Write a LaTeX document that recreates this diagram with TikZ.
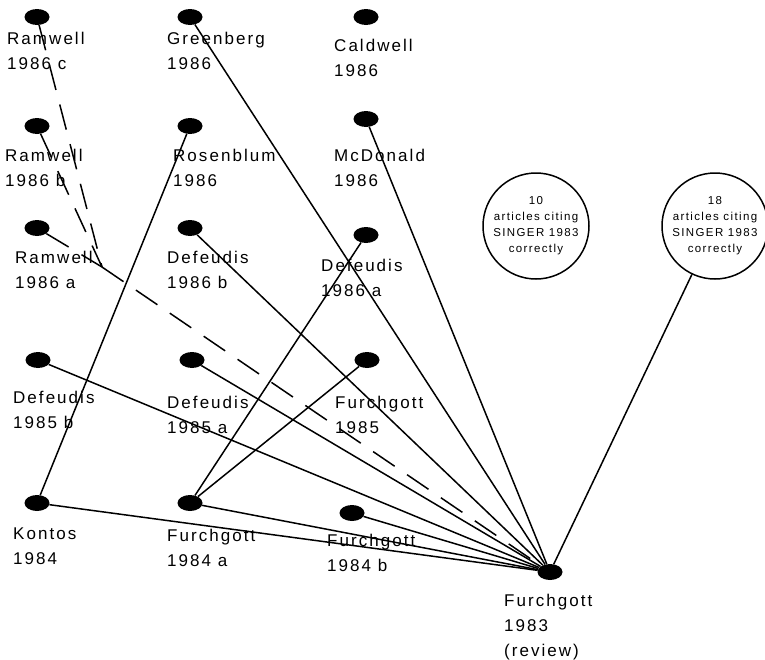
\documentclass[tikz,border=0pt]{standalone}
\usepackage{fontspec}
\setmainfont[LetterSpace=12]{Liberation Sans}
\usetikzlibrary{shapes.geometric}

\begin{document}
\begin{tikzpicture}[x=1pt,y=-1pt,
  paper/.style={ellipse,fill=black,minimum width=25pt,minimum height=16pt,inner sep=0pt},
  lbl/.style={anchor=north west,align=left,inner sep=0pt,font=\fontsize{17}{25}\selectfont},
  tally/.style={draw,circle,line width=1.5pt,minimum size=106pt,inner sep=0pt,align=center,font=\fontsize{11.5}{16}\selectfont},
  citeline/.style={line width=1.5pt},
  miscite/.style={line width=1.5pt,dash pattern=on 26pt off 15pt}]
\useasboundingbox (0,0) rectangle (765,659);
% papers, column by column
\node[paper] (ramc) at (37,17) {};
\node[paper] (ramb) at (37,126) {};
\node[paper] (rama) at (37,228) {};
\node[paper] (def85b) at (38,360) {};
\node[paper] (kontos) at (37,503) {};
\node[paper] (greenberg) at (190,17) {};
\node[paper] (rosenblum) at (190,126) {};
\node[paper] (def86b) at (190,228) {};
\node[paper] (def85a) at (192,360) {};
\node[paper] (fur84a) at (190,503) {};
\node[paper] (caldwell) at (366,17) {};
\node[paper] (mcdonald) at (366,119) {};
\node[paper] (def86a) at (366,235) {};
\node[paper] (fur85) at (367,360) {};
\node[paper] (fur84b) at (352,513) {};
\node[paper] (review) at (550,572) {};
\coordinate (ramj) at (102,267);
% labels
\node[lbl] (ramcl) at (7,32) {Ramwell\\1986 c};
\node[lbl] (rambl) at (5,149) {Ramwell\\1986 b};
\node[lbl] (ramal) at (15,251) {Ramwell\\1986 a};
\node[lbl] (def85bl) at (13,391) {Defeudis\\1985 b};
\node[lbl] (kontosl) at (13,528) {Kontos\\1984};
\node[lbl] (greenbergl) at (167,32) {Greenberg\\1986};
\node[lbl] (rosenbluml) at (173,149) {Rosenblum\\1986};
\node[lbl] (def86bl) at (167,251) {Defeudis\\1986 b};
\node[lbl] (def85al) at (167,396) {Defeudis\\1985 a};
\node[lbl] (fur84al) at (167,529) {Furchgott\\1984 a};
\node[lbl] (caldwelll) at (334,39) {Caldwell\\1986};
\node[lbl] (mcdonaldl) at (334,149) {McDonald\\1986};
\node[lbl] (def86al) at (321,259) {Defeudis\\1986 a};
\node[lbl] (fur85l) at (335,396) {Furchgott\\1985};
\node[lbl] (fur84bl) at (327,534) {Furchgott\\1984 b};
\node[lbl] (reviewl) at (504,594) {Furchgott\\1983\\(review)};
% counts
\node[tally] (ten) at (536,226) {10\\articles citing\\SINGER 1983\\correctly};
\node[tally] (eighteen) at (715,226) {18\\articles citing\\SINGER 1983\\correctly};
% citations
\draw[citeline] (greenberg) -- (review);
\draw[citeline] (mcdonald) -- (review);
\draw[citeline] (def86b) -- (review);
\draw[citeline] (def85b) -- (review);
\draw[citeline] (def85a) -- (review);
\draw[citeline] (kontos) -- (review);
\draw[citeline] (fur84a) -- (review);
\draw[citeline] (fur84b) -- (review);
\draw[citeline] (eighteen) -- (review);
\draw[citeline] (rosenblum) -- (kontos);
\draw[citeline] (def86a) -- (fur84a);
\draw[citeline] (fur85) -- (fur84a);
\draw[miscite] (ramc) -- (ramj);
\draw[miscite] (ramb) -- (ramj);
\draw[miscite] (rama) -- (ramj);
\draw[miscite] (ramj) -- (review);
\end{tikzpicture}
\end{document}
